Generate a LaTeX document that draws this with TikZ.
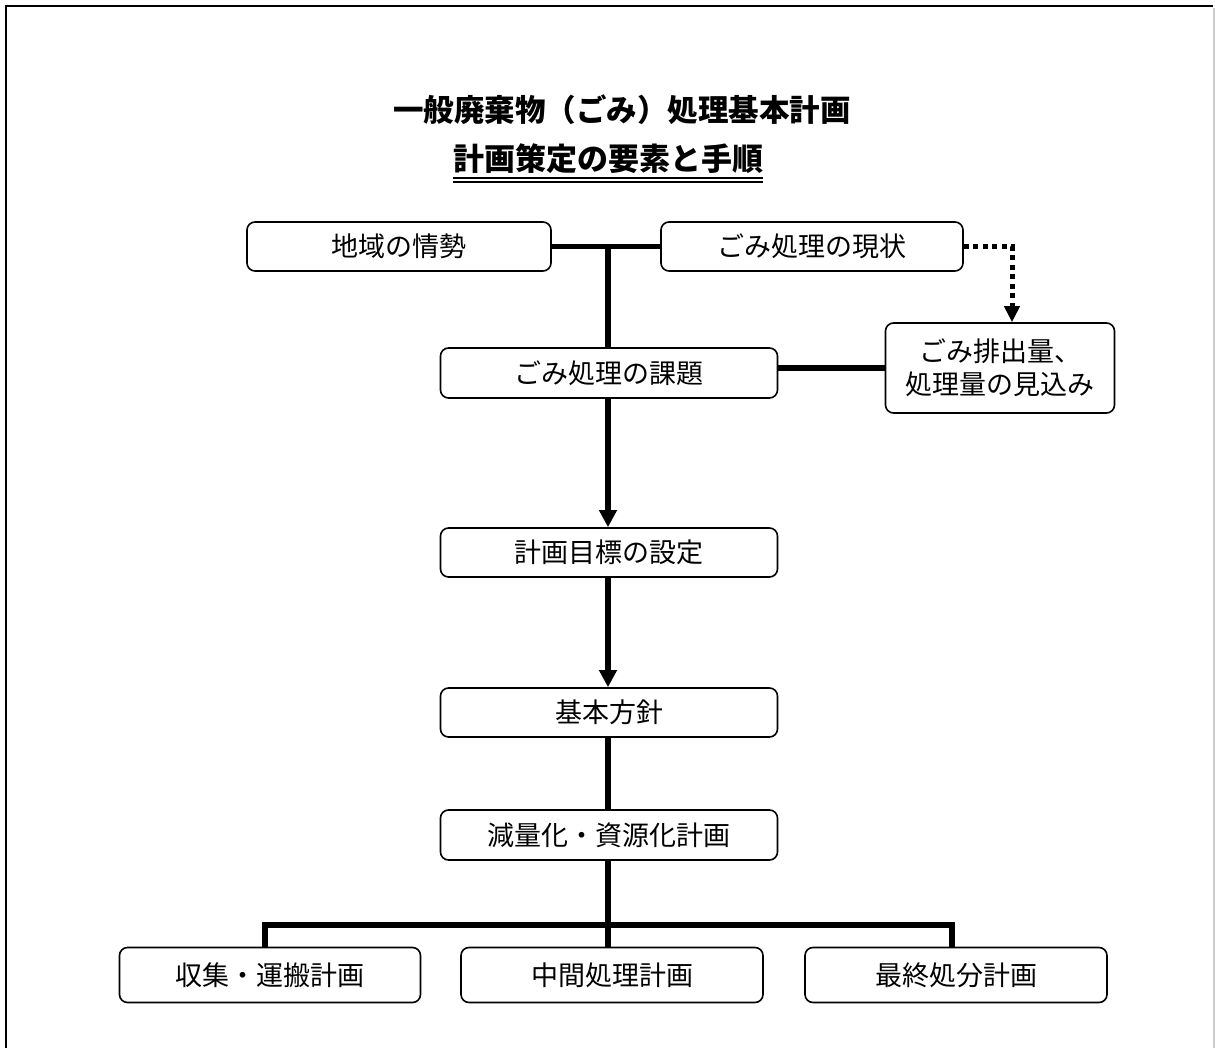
\documentclass[tikz,border=0pt]{standalone}
\usepackage{fontspec}
\setmainfont{Noto Sans CJK JP}
\usetikzlibrary{arrows.meta}
\tikzset{
	stepbox/.style  = {draw, line width=1.6pt, rounded corners=8pt, align=center,
		font=\fontsize{27}{33}\selectfont, inner sep=0pt},
	link/.style     = {line width=5.5pt},
	flow/.style     = {line width=5.5pt, -{Triangle[width=17pt,length=17pt]}},
	hint/.style     = {line width=5pt, dash pattern=on 5pt off 4.5pt,
		-{Triangle[width=15pt,length=16pt]}},
	joint/.style    = {coordinate}
}

\begin{document}
\begin{tikzpicture}[x=1pt, y=-1pt]
	\useasboundingbox (0,0) rectangle (1215,1048);
	% frame
	\draw[line width=2.5pt] (6,1060) -- (6,6) -- (1213,6);
	\draw[gray!40, line width=1.5pt] (1214,8) -- (1214,1048);

	% titles
	\node at (622,110) (title) {\fontsize{30.5}{36}\selectfont\bfseries 一般廃棄物（ごみ）処理基本計画};
	\node[inner sep=0pt] at (608,159) (sub) {\fontsize{31}{36}\selectfont\bfseries 計画策定の要素と手順};
	\draw[line width=1.6pt] ([yshift=-4pt]sub.south west) -- ([yshift=-4pt]sub.south east);
	\draw[line width=1.6pt] ([yshift=-8pt]sub.south west) -- ([yshift=-8pt]sub.south east);

	% boxes
	\draw
	node at (399,246.5)[stepbox, minimum width=304pt, minimum height=49pt] (area) {地域の情勢}
	node at (812,246.5)[stepbox, minimum width=302pt, minimum height=49pt] (now) {ごみ処理の現状}
	node at (609,373)[stepbox, minimum width=337pt, minimum height=50pt] (issue) {ごみ処理の課題}
	node at (1000,368)[stepbox, minimum width=229pt, minimum height=90pt] (amount) {ごみ排出量、\\処理量の見込み}
	node at (609,552.5)[stepbox, minimum width=337pt, minimum height=49pt] (goal) {計画目標の設定}
	node at (609,712.5)[stepbox, minimum width=337pt, minimum height=49pt] (policy) {基本方針}
	node at (609,835)[stepbox, minimum width=337pt, minimum height=50pt] (reduce) {減量化・資源化計画}
	node at (270,975)[stepbox, minimum width=301pt, minimum height=55pt] (collect) {収集・運搬計画}
	node at (612,975)[stepbox, minimum width=302pt, minimum height=55pt] (middle) {中間処理計画}
	node at (956,975)[stepbox, minimum width=302pt, minimum height=55pt] (final) {最終処分計画};

	% junctions
	\node at (608,246.5)[joint] (top) {};
	\node at (1012,246.5)[joint] (turn) {};
	\node at (608,925)[joint] (bus) {};
	\node at (265,925)[joint] (busl) {};
	\node at (952,925)[joint] (busr) {};

	% connectors
	\draw[link] (area.east) -- (now.west);
	\draw[link] (top) -- (issue.north -| top);
	\draw[link] (issue.east |- amount.west) -- (amount.west);
	\draw[hint] (now.east) -- (turn) -- (turn |- amount.north);
	\draw[flow] (issue.south -| top) -- (goal.north -| top);
	\draw[flow] (goal.south -| top) -- (policy.north -| top);
	\draw[link] (policy.south -| top) -- (reduce.north -| top);
	\draw[link] (reduce.south -| top) -- (bus);
	\draw[link, line cap=rect] (busl) -- (busr);
	\draw[link] (busl) -- (collect.north -| busl);
	\draw[link] (bus) -- (middle.north -| bus);
	\draw[link] (busr) -- (final.north -| busr);
\end{tikzpicture}
\end{document}
